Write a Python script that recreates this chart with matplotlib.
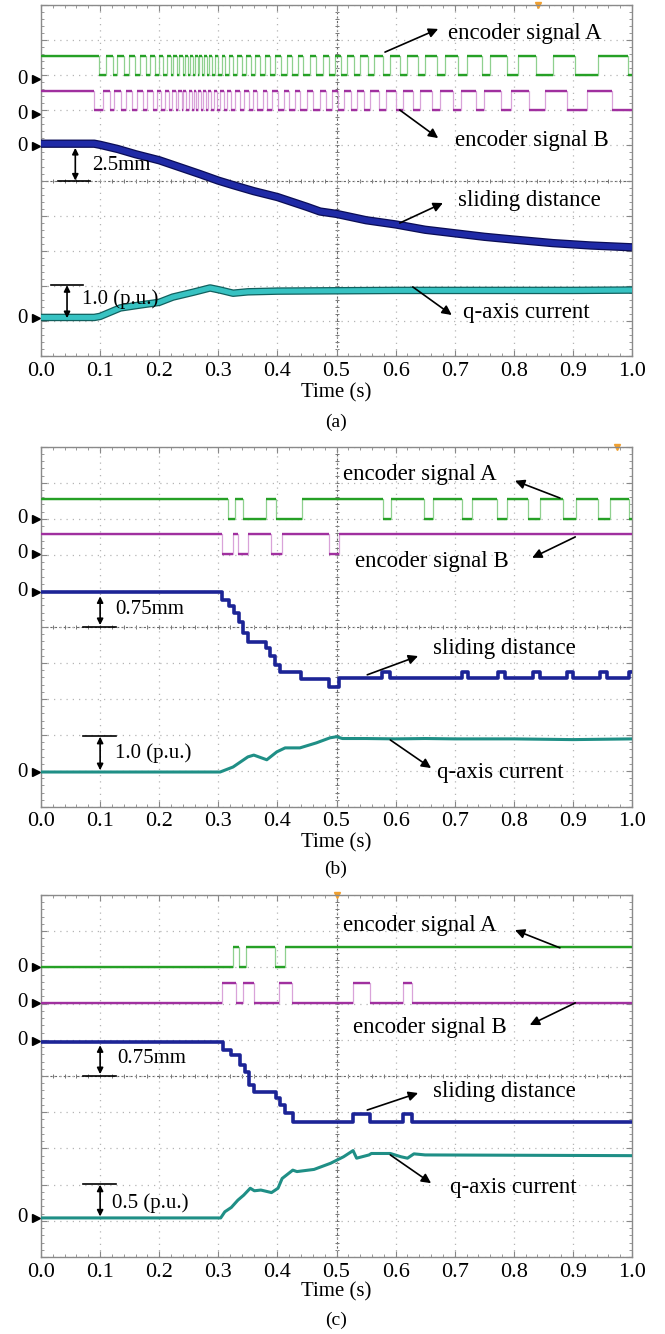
import numpy as np
import matplotlib
matplotlib.use("Agg")
import matplotlib.pyplot as plt
import matplotlib.patheffects as pe

plt.rcParams['font.family'] = ['Liberation Serif', 'DejaVu Serif']

time_ticks = [0.0, 0.1, 0.2, 0.3, 0.4, 0.5, 0.6, 0.7, 0.8, 0.9, 1.0]

# ---- (a) ----
enc_a_a = [0.098, 0.110, 0.122, 0.129, 0.140, 0.149, 0.159, 0.168, 0.178, 0.184, 0.193,
           0.200, 0.206, 0.213, 0.220, 0.223, 0.230, 0.234, 0.240, 0.244, 0.249, 0.252,
           0.257, 0.261, 0.265, 0.268, 0.272, 0.276, 0.281, 0.284, 0.289, 0.294, 0.299,
           0.306, 0.312, 0.318, 0.325, 0.332, 0.340, 0.347, 0.355, 0.362, 0.371, 0.379,
           0.387, 0.396, 0.406, 0.416, 0.425, 0.435, 0.443, 0.455, 0.465, 0.477, 0.487,
           0.497, 0.508, 0.518, 0.530, 0.540, 0.553, 0.563, 0.579, 0.591, 0.607, 0.619,
           0.638, 0.650, 0.670, 0.684, 0.706, 0.721, 0.746, 0.760, 0.789, 0.807, 0.838,
           0.866, 0.904, 0.942, 0.993]
enc_b_a = [0.090, 0.105, 0.117, 0.124, 0.135, 0.144, 0.154, 0.162, 0.173, 0.180, 0.189,
           0.196, 0.203, 0.210, 0.217, 0.221, 0.228, 0.231, 0.238, 0.241, 0.246, 0.250,
           0.255, 0.259, 0.263, 0.266, 0.270, 0.274, 0.279, 0.282, 0.287, 0.292, 0.297,
           0.303, 0.309, 0.315, 0.321, 0.328, 0.337, 0.343, 0.352, 0.358, 0.366, 0.375,
           0.383, 0.391, 0.401, 0.411, 0.420, 0.430, 0.438, 0.450, 0.460, 0.472, 0.482,
           0.492, 0.503, 0.512, 0.524, 0.534, 0.547, 0.557, 0.572, 0.584, 0.601, 0.612,
           0.630, 0.641, 0.662, 0.675, 0.697, 0.711, 0.736, 0.750, 0.778, 0.795, 0.826,
           0.853, 0.890, 0.924, 0.966]
dist_a_t = [0, 0.09, 0.1, 0.13, 0.16, 0.2, 0.24, 0.27, 0.3, 0.325, 0.36, 0.4, 0.45, 0.472,
            0.5, 0.55, 0.6, 0.65, 0.7, 0.75, 0.8, 0.866, 0.93, 1.0]
dist_a_mm = [0, 0, -0.08, -0.38, -0.75, -1.18, -1.75, -2.18, -2.63, -2.95, -3.38, -3.8,
             -4.5, -4.83, -5.0, -5.45, -5.75, -6.13, -6.38, -6.63, -6.83, -7.08, -7.25, -7.38]
cur_a_t = [0, 0.09, 0.1, 0.134, 0.17, 0.2, 0.223, 0.258, 0.286, 0.303, 0.325, 0.35, 0.4,
           0.5, 0.6, 0.7, 0.8, 0.9, 1.0]
cur_a_pu = [0, 0, 0.03, 0.27, 0.36, 0.43, 0.58, 0.72, 0.84, 0.78, 0.69, 0.73, 0.75, 0.76,
            0.77, 0.77, 0.77, 0.77, 0.78]

# ---- (b) ----
enc_a_b = [0.316, 0.328, 0.342, 0.380, 0.397, 0.441, 0.578, 0.592, 0.648, 0.663, 0.712,
           0.729, 0.771, 0.788, 0.824, 0.844, 0.883, 0.905, 0.942, 0.963, 0.995]
enc_b_b = [0.306, 0.324, 0.334, 0.351, 0.389, 0.407, 0.488, 0.504]
dist_b_t = [0, 0.306, 0.318, 0.327, 0.335, 0.342, 0.350, 0.380, 0.388, 0.396, 0.404, 0.440,
            0.488, 0.505, 0.577, 0.590, 0.712, 0.722, 0.773, 0.785, 0.832, 0.845, 0.890,
            0.900, 0.946, 0.958, 0.995, 1.0]
dist_b_mm = [0, -0.165, -0.285, -0.435, -0.615, -0.855, -1.04, -1.16, -1.34, -1.52, -1.66,
             -1.81, -1.98, -1.79, -1.67, -1.79, -1.67, -1.79, -1.67, -1.79, -1.67, -1.79,
             -1.67, -1.79, -1.67, -1.79, -1.67, -1.67]
cur_b_t = [0, 0.303, 0.325, 0.35, 0.36, 0.382, 0.399, 0.413, 0.438, 0.466, 0.489, 0.5,
           0.51, 0.55, 0.6, 0.65, 0.7, 0.8, 0.9, 1.0]
cur_b_pu = [0, 0, 0.14, 0.42, 0.47, 0.34, 0.56, 0.67, 0.67, 0.81, 0.95, 0.98, 0.93, 0.93,
            0.92, 0.93, 0.92, 0.92, 0.9, 0.92]

# ---- (c) ----
enc_a_c = [0.324, 0.335, 0.347, 0.396, 0.412]
enc_b_c = [0.307, 0.330, 0.341, 0.360, 0.403, 0.425, 0.528, 0.556, 0.613, 0.627]
dist_c_t = [0, 0.308, 0.322, 0.337, 0.345, 0.352, 0.360, 0.397, 0.405, 0.413, 0.427, 0.528,
            0.556, 0.613, 0.627, 1.0]
dist_c_mm = [0, -0.165, -0.27, -0.48, -0.615, -0.89, -1.04, -1.17, -1.305, -1.48, -1.65,
             -1.5, -1.65, -1.5, -1.65, -1.65]
cur_c_t = [0, 0.304, 0.311, 0.322, 0.333, 0.343, 0.354, 0.361, 0.372, 0.39, 0.401, 0.408,
           0.426, 0.433, 0.462, 0.49, 0.512, 0.528, 0.534, 0.555, 0.559, 0.591, 0.609, 0.62,
           0.631, 0.65, 1.0]
cur_c_pu = [0, 0, 0.085, 0.145, 0.245, 0.315, 0.41, 0.375, 0.385, 0.35, 0.41, 0.545, 0.66,
            0.64, 0.67, 0.755, 0.845, 0.93, 0.825, 0.87, 0.89, 0.89, 0.845, 0.825, 0.885,
            0.87, 0.86]

GREEN = '#25a025'
GREEN_EDGE = '#8fd08f'
MAGENTA = '#a0309f'
MAGENTA_EDGE = '#d9a3d9'
NAVY = '#1c2496'
TEAL = '#1f8f86'


def square(toggles, start):
    xs, ys, lvl = [0.0], [start], start
    for t in toggles:
        xs += [t, t]
        ys += [lvl, 1 - lvl]
        lvl = 1 - lvl
    xs.append(1.0)
    ys.append(lvl)
    return np.array(xs), np.array(ys)


def encoder(ax, toggles, start, base, color, edge):
    # thin light edges, thicker flat levels like the scope trace
    x, y = square(toggles, start)
    ax.plot(x, base + 0.55 * y, color=edge, lw=0.9, zorder=3)
    ax.hlines(base + 0.55 * y[::2], x[::2], x[1::2], color=color, lw=1.7, zorder=4)


def scope_axes(ax):
    ax.set_xlim(0, 1)
    ax.set_ylim(0, 10)
    ax.set_xticks(time_ticks)
    ax.set_xticklabels([f"{t:.1f}" for t in time_ticks], fontsize=16)
    ax.set_xticks(np.arange(0, 1.0001, 0.02), minor=True)
    ax.set_yticks(range(11))
    ax.set_yticklabels([])
    ax.set_yticks(np.arange(0, 10.001, 0.2), minor=True)
    ax.tick_params(which='both', direction='in', top=True, right=True, color='#888888')
    ax.tick_params(which='major', length=4, pad=4)
    ax.tick_params(which='minor', length=2.5)
    ax.grid(True, which='major', color='#b5b5b5', linestyle=(0, (1, 4)), lw=0.9)
    for s in ax.spines.values():
        s.set_color('#8a8a8a')
        s.set_linewidth(1.0)
    ax.axvline(0.5, color='#666666', lw=0.8, linestyle=(0, (2, 2)), zorder=1)
    ax.axhline(5, color='#666666', lw=0.8, linestyle=(0, (2, 2)), zorder=1)
    ax.plot(np.arange(0, 1.0001, 0.02), np.full(51, 5.0), ls='none', marker='|',
            ms=3, color='#777777', mew=0.7, zorder=1)
    ax.plot(np.full(51, 0.5), np.arange(0, 10.001, 0.2), ls='none', marker='_',
            ms=3, color='#777777', mew=0.7, zorder=1)


def zero_marks(ax, ys):
    for y in ys:
        ax.text(-0.032, y, '0', fontsize=15, ha='center', va='center')
        ax.plot([-0.009], [y], marker='>', ms=6, color='k', clip_on=False)


def scale_bar(ax, x, x0, x1, ybar, ya, yb, label, tx, ty):
    ax.plot([x0, x1], [ybar, ybar], color='k', lw=1.2, zorder=6)
    ax.annotate('', xy=(x, ya), xytext=(x, yb), zorder=6,
                arrowprops=dict(arrowstyle='<|-|>', color='k', lw=1.2,
                                mutation_scale=9, shrinkA=0, shrinkB=0))
    ax.text(tx, ty, label, fontsize=15, ha='left', va='center', zorder=7)


def label_arrow(ax, text, tx, ty, tail, head):
    ax.text(tx, ty, text, fontsize=16.5, ha='left', va='center', zorder=7)
    ax.annotate('', xy=head, xytext=tail, zorder=6,
                arrowprops=dict(arrowstyle='-|>', color='k', lw=1.2,
                                mutation_scale=14, shrinkA=0, shrinkB=0))


fig = plt.figure(figsize=(6.65, 13.34), dpi=100)

# ---------------- panel (a) ----------------
ax = fig.add_axes([0.0617, 0.7331, 0.8887, 0.2631])
scope_axes(ax)
encoder(ax, enc_a_a, 1, 8.0, GREEN, GREEN_EDGE)
encoder(ax, enc_b_a, 1, 7.0, MAGENTA, MAGENTA_EDGE)
ax.plot(dist_a_t, 6.05 + np.array(dist_a_mm) / 2.5, color='#1f2aa6', lw=4.2,
        solid_capstyle='butt', zorder=5,
        path_effects=[pe.Stroke(linewidth=6.0, foreground='#0b0d55'), pe.Normal()])
ax.plot(cur_a_t, 1.1 + np.array(cur_a_pu) / 1.0, color='#37c2c2', lw=3.6,
        solid_capstyle='butt', zorder=5,
        path_effects=[pe.Stroke(linewidth=5.4, foreground='#11605e'), pe.Normal()])
zero_marks(ax, [7.88, 6.89, 5.98, 1.08])
scale_bar(ax, 0.058, 0.029, 0.083, 5.0, 5.93, 5.0, '2.5mm', 0.086, 5.44)
scale_bar(ax, 0.044, 0.017, 0.071, 2.02, 2.02, 1.08, '1.0 (p.u.)', 0.069, 1.62)
label_arrow(ax, 'encoder signal A', 0.689, 9.20, (0.582, 8.66), (0.672, 9.32))
label_arrow(ax, 'encoder signal B', 0.700, 6.15, (0.607, 7.01), (0.672, 6.21))
label_arrow(ax, 'sliding distance', 0.706, 4.44, (0.607, 3.79), (0.680, 4.36))
label_arrow(ax, 'q-axis current', 0.714, 1.25, (0.629, 1.97), (0.695, 1.17))
ax.plot([0.841], [10], marker='v', ms=4, color='#f0a030', clip_on=False)
fig.text(0.505, 1 - 393 / 1334, 'Time (s)', fontsize=15, ha='center', va='center')
fig.text(0.505, 1 - 422 / 1334, '(a)', fontsize=14, ha='center', va='center')

# ---------------- panel (b) ----------------
ax = fig.add_axes([0.0617, 0.3951, 0.8887, 0.2699])
scope_axes(ax)
encoder(ax, enc_a_b, 1, 8.0, GREEN, GREEN_EDGE)
encoder(ax, enc_b_b, 1, 7.03, MAGENTA, MAGENTA_EDGE)
ax.plot(dist_b_t, 5.97 + np.array(dist_b_mm) / 0.75, color=NAVY, lw=2.6,
        drawstyle='steps-post', zorder=5)
ax.plot(cur_b_t, 0.97 + np.array(cur_b_pu) / 1.0, color=TEAL, lw=2.2, zorder=5)
zero_marks(ax, [8.0, 7.03, 5.97, 0.97])
scale_bar(ax, 0.1, 0.071, 0.127, 5.0, 5.85, 5.05, '0.75mm', 0.125, 5.47)
scale_bar(ax, 0.1, 0.071, 0.127, 1.97, 1.95, 1.02, '1.0 (p.u.)', 0.125, 1.50)
label_arrow(ax, 'encoder signal A', 0.511, 9.22, (0.878, 8.58), (0.802, 9.06))
label_arrow(ax, 'encoder signal B', 0.531, 6.83, (0.904, 7.50), (0.831, 6.92))
label_arrow(ax, 'sliding distance', 0.663, 4.39, (0.552, 3.67), (0.638, 4.19))
label_arrow(ax, 'q-axis current', 0.670, 0.97, (0.591, 1.86), (0.660, 1.08))
ax.plot([0.975], [10], marker='v', ms=4, color='#f0a030', clip_on=False)
fig.text(0.505, 1 - 843 / 1334, 'Time (s)', fontsize=15, ha='center', va='center')
fig.text(0.505, 1 - 869 / 1334, '(b)', fontsize=14, ha='center', va='center')

# ---------------- panel (c) ----------------
ax = fig.add_axes([0.0617, 0.0577, 0.8887, 0.2714])
scope_axes(ax)
encoder(ax, enc_a_c, 0, 8.01, GREEN, GREEN_EDGE)
encoder(ax, enc_b_c, 0, 7.02, MAGENTA, MAGENTA_EDGE)
ax.plot(dist_c_t, 5.94 + np.array(dist_c_mm) / 0.75, color=NAVY, lw=2.6,
        drawstyle='steps-post', zorder=5)
ax.plot(cur_c_t, 1.08 + np.array(cur_c_pu) / 0.5, color=TEAL, lw=2.2, zorder=5)
zero_marks(ax, [8.01, 7.02, 5.98, 1.08])
scale_bar(ax, 0.1, 0.071, 0.127, 5.0, 5.85, 5.05, '0.75mm', 0.129, 5.47)
scale_bar(ax, 0.1, 0.071, 0.127, 2.02, 2.0, 1.12, '0.5 (p.u.)', 0.120, 1.49)
label_arrow(ax, 'encoder signal A', 0.511, 9.17, (0.878, 8.54), (0.802, 9.03))
label_arrow(ax, 'encoder signal B', 0.528, 6.35, (0.904, 7.02), (0.827, 6.41))
label_arrow(ax, 'sliding distance', 0.663, 4.56, (0.552, 4.06), (0.638, 4.53))
label_arrow(ax, 'q-axis current', 0.692, 1.93, (0.591, 2.82), (0.660, 2.04))
ax.plot([0.5], [10], marker='v', ms=4, color='#f0a030', clip_on=False)
fig.text(0.505, 1 - 1292 / 1334, 'Time (s)', fontsize=15, ha='center', va='center')
fig.text(0.505, 1 - 1320 / 1334, '(c)', fontsize=14, ha='center', va='center')

fig.savefig('out.png', dpi=100)
plt.close(fig)
